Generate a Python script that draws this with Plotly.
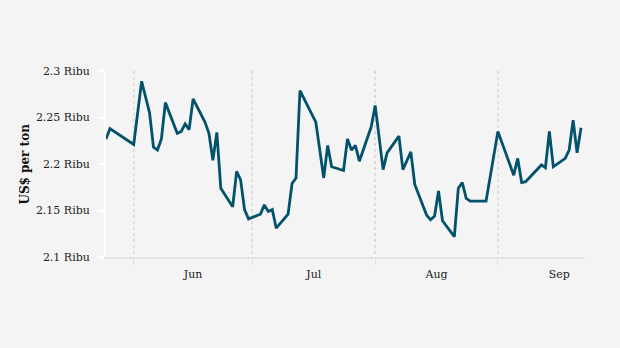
import plotly.graph_objects as go

dates = [
    "2023-05-25", "2023-05-26", "2023-06-01", "2023-06-03", "2023-06-05", "2023-06-06",
    "2023-06-07", "2023-06-08", "2023-06-09", "2023-06-12", "2023-06-13", "2023-06-14",
    "2023-06-15", "2023-06-16", "2023-06-19", "2023-06-20", "2023-06-21", "2023-06-22",
    "2023-06-23", "2023-06-26", "2023-06-27", "2023-06-28", "2023-06-29", "2023-06-30",
    "2023-07-03", "2023-07-04", "2023-07-05", "2023-07-06", "2023-07-07", "2023-07-10",
    "2023-07-11", "2023-07-12", "2023-07-13", "2023-07-17", "2023-07-19", "2023-07-20",
    "2023-07-21", "2023-07-24", "2023-07-25", "2023-07-26", "2023-07-27", "2023-07-28",
    "2023-07-31", "2023-08-01", "2023-08-03", "2023-08-04", "2023-08-07", "2023-08-08",
    "2023-08-10", "2023-08-11", "2023-08-14", "2023-08-15", "2023-08-16", "2023-08-17",
    "2023-08-18", "2023-08-21", "2023-08-22", "2023-08-23", "2023-08-24", "2023-08-25",
    "2023-08-29", "2023-09-01", "2023-09-05", "2023-09-06", "2023-09-07", "2023-09-08",
    "2023-09-12", "2023-09-13", "2023-09-14", "2023-09-15", "2023-09-18", "2023-09-19",
    "2023-09-20", "2023-09-21", "2023-09-22",
]
prices = [
    2227, 2238, 2221, 2289, 2255, 2218,
    2215, 2227, 2266, 2233, 2235, 2243,
    2237, 2270, 2245, 2233, 2204, 2234,
    2174, 2154, 2192, 2183, 2151, 2141,
    2146, 2156, 2149, 2151, 2131, 2146,
    2179, 2185, 2279, 2245, 2185, 2220,
    2197, 2193, 2227, 2215, 2220, 2203,
    2240, 2263, 2194, 2212, 2230, 2194,
    2213, 2178, 2145, 2140, 2144, 2171,
    2139, 2122, 2174, 2180, 2163, 2160,
    2160, 2235, 2188, 2206, 2180, 2181,
    2199, 2196, 2235, 2197, 2206, 2215,
    2247, 2212, 2239,
]
x_range = ["2023-05-25", "2023-09-23"]
y_tickvals = [2100, 2150, 2200, 2250, 2300]
y_ticktext = ["2.1 Ribu", "2.15 Ribu", "2.2 Ribu", "2.25 Ribu", "2.3 Ribu"]
y_title = "US$ per ton"

FONT = "DejaVu Serif"
BG = "#f4f4f4"

fig = go.Figure()
fig.add_trace(go.Scatter(
    x=dates, y=prices, mode="lines",
    line=dict(color="#03526c", width=2.8),
    hoverinfo="x+y",
))

fig.update_layout(
    width=620, height=348,
    margin=dict(l=106, r=35, t=71, b=91),
    paper_bgcolor=BG, plot_bgcolor=BG,
    font=dict(family=FONT, size=11, color="#222"),
    showlegend=False,
    annotations=[dict(
        text="<b>" + y_title + "</b>", textangle=-90,
        xref="paper", yref="paper", x=-0.17, y=0.5,
        xanchor="center", yanchor="middle", showarrow=False,
        font=dict(family=FONT, size=12, color="#111"),
    )],
)
fig.update_xaxes(
    type="date", range=x_range,
    dtick="M1", tickformat="%b", ticklabelmode="period",
    showgrid=True, gridcolor="#dcdcdc", griddash="dot", gridwidth=1.5,
    showline=True, linecolor="#e4e4e4", linewidth=2,
    ticks="outside", ticklen=6, tickcolor="#e0e0e0",
    zeroline=False,
    tickfont=dict(family=FONT, size=11, color="#222"),
)
fig.update_yaxes(
    range=[2100, 2300],
    tickvals=y_tickvals, ticktext=y_ticktext,
    showgrid=False, zeroline=False,
    showline=True, linecolor="white", linewidth=2,
    ticks="outside", ticklen=6, tickcolor="white", tickwidth=2,
    ticklabelstandoff=6,
    tickfont=dict(family=FONT, size=11, color="#222"),
)

fig.write_html("out.html")
